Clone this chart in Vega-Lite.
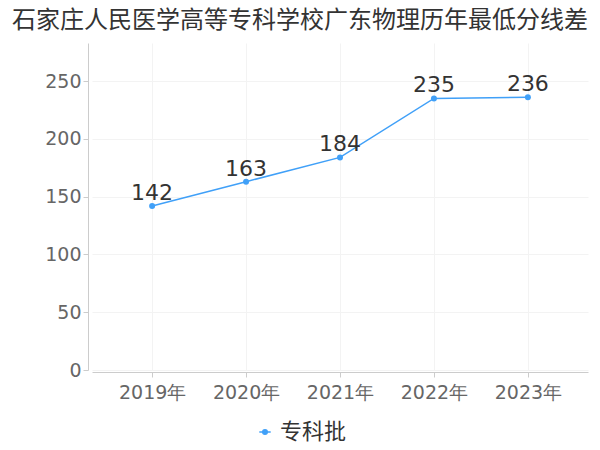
{
  "$schema": "https://vega.github.io/schema/vega-lite/v6.json",
  "autosize": "none",
  "width": 496,
  "height": 327,
  "padding": {"left": 92, "top": 43, "right": 12, "bottom": 80},
  "background": "white",
  "title": {
    "text": "石家庄人民医学高等专科学校广东物理历年最低分线差",
    "fontSize": 24,
    "font": "Noto Sans CJK SC",
    "fontWeight": "normal",
    "color": "#333333",
    "anchor": "middle",
    "frame": "group",
    "dx": -40,
    "offset": 10
  },
  "config": {
    "view": {"stroke": null},
    "font": "DejaVu Sans"
  },
  "data": {
    "values": [
      {"year": "2019年", "score": 142, "batch": "专科批"},
      {"year": "2020年", "score": 163, "batch": "专科批"},
      {"year": "2021年", "score": 184, "batch": "专科批"},
      {"year": "2022年", "score": 235, "batch": "专科批"},
      {"year": "2023年", "score": 236, "batch": "专科批"}
    ]
  },
  "encoding": {
    "x": {
      "field": "year",
      "type": "ordinal",
      "scale": {"type": "point", "padding": 0.64},
      "axis": {
        "title": null,
        "labelAngle": 0,
        "labelFontSize": 19,
        "labelColor": "#666666",
        "labelFont": "DejaVu Sans",
        "domainColor": "#cccccc",
        "tickColor": "#cccccc",
        "tickSize": 5,
        "labelPadding": 6,
        "offset": 2,
        "grid": true,
        "gridColor": "#f3f3f3"
      }
    },
    "y": {
      "field": "score",
      "type": "quantitative",
      "scale": {"domain": [0, 283], "nice": false},
      "axis": {
        "title": null,
        "values": [0, 50, 100, 150, 200, 250],
        "labelFontSize": 19,
        "labelColor": "#666666",
        "domainColor": "#cccccc",
        "tickColor": "#cccccc",
        "tickSize": 5,
        "labelPadding": 2,
        "offset": 4,
        "grid": true,
        "gridColor": "#f3f3f3"
      }
    }
  },
  "layer": [
    {
      "mark": {"type": "line", "color": "#40a0f8", "strokeWidth": 1.5},
      "encoding": {
        "color": {
          "field": "batch",
          "type": "nominal",
          "scale": {"range": ["#40a0f8"]},
          "legend": {
            "orient": "none",
            "legendX": 162,
            "legendY": 378,
            "title": null,
            "labelFontSize": 22,
            "labelColor": "#333333",
            "labelFont": "Noto Sans CJK SC",
            "symbolType": "M-1,0L1,0M-0.4,0A0.4,0.4 0 1,1 0.4,0A0.4,0.4 0 1,1 -0.4,0Z",
            "symbolSize": 130,
            "symbolStrokeWidth": 1.5,
            "symbolFillColor": "#40a0f8",
            "symbolStrokeColor": "#40a0f8",
            "labelOffset": 4
          }
        }
      }
    },
    {
      "mark": {"type": "point", "filled": true, "color": "#40a0f8", "size": 36, "opacity": 1}
    },
    {
      "mark": {"type": "text", "dy": -13, "fontSize": 22, "color": "#333333", "font": "DejaVu Sans"},
      "encoding": {"text": {"field": "score", "type": "quantitative"}}
    }
  ]
}
